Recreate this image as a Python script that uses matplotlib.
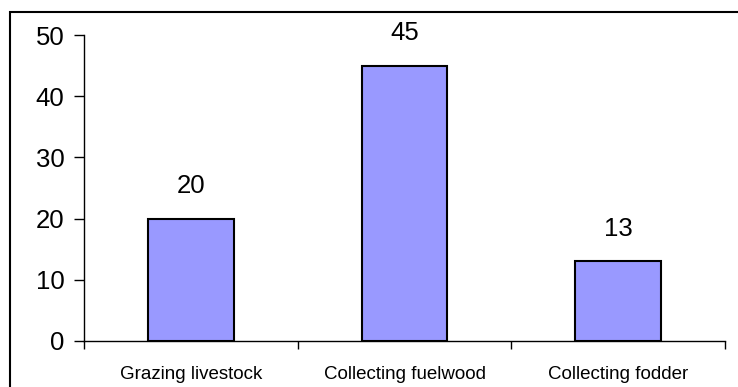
import matplotlib
matplotlib.use("Agg")
import matplotlib.pyplot as plt
from matplotlib.patches import Rectangle

plt.rcParams['font.family'] = ['Liberation Sans', 'DejaVu Sans']

activities = ['Grazing livestock', 'Collecting fuelwood', 'Collecting fodder']
counts = [20, 45, 13]
yticks = [0, 10, 20, 30, 40, 50]

fig = plt.figure(figsize=(7.38, 3.87), dpi=100)
# outer frame around the chart area
fig.patches.append(Rectangle((10 / 738, -0.1), 1.1, (387 - 12) / 387 + 0.1,
                             transform=fig.transFigure, fill=False,
                             edgecolor='black', linewidth=1.5))

ax = fig.add_axes([84 / 738, (387 - 341) / 387, (725 - 84) / 738, (341 - 35) / 387])
x = range(len(activities))
ax.bar(x, counts, width=0.4, color='#9999FF', edgecolor='black', linewidth=1.5)
for i, v in zip(x, counts):
    ax.text(i, v + 3.4, str(v), ha='center', va='bottom', fontsize=18.5)

ax.set_xlim(-0.5, len(activities) - 0.5)
ax.set_ylim(0, 50)
ax.set_yticks(yticks)
ax.tick_params(axis='y', labelsize=18.5, length=7, width=1, pad=7)
ax.set_xticks(list(x))
ax.set_xticklabels(activities, fontsize=13.5)
ax.tick_params(axis='x', length=0, pad=18)
# category separator ticks on the x axis
ax.set_xticks([-0.5, 0.5, 1.5, 2.5], minor=True)
ax.tick_params(axis='x', which='minor', length=6, width=1, direction='out')

for s in ['top', 'right']:
    ax.spines[s].set_visible(False)
ax.spines['left'].set_linewidth(1)
ax.spines['bottom'].set_linewidth(1)

fig.savefig('out.png', dpi=100)
